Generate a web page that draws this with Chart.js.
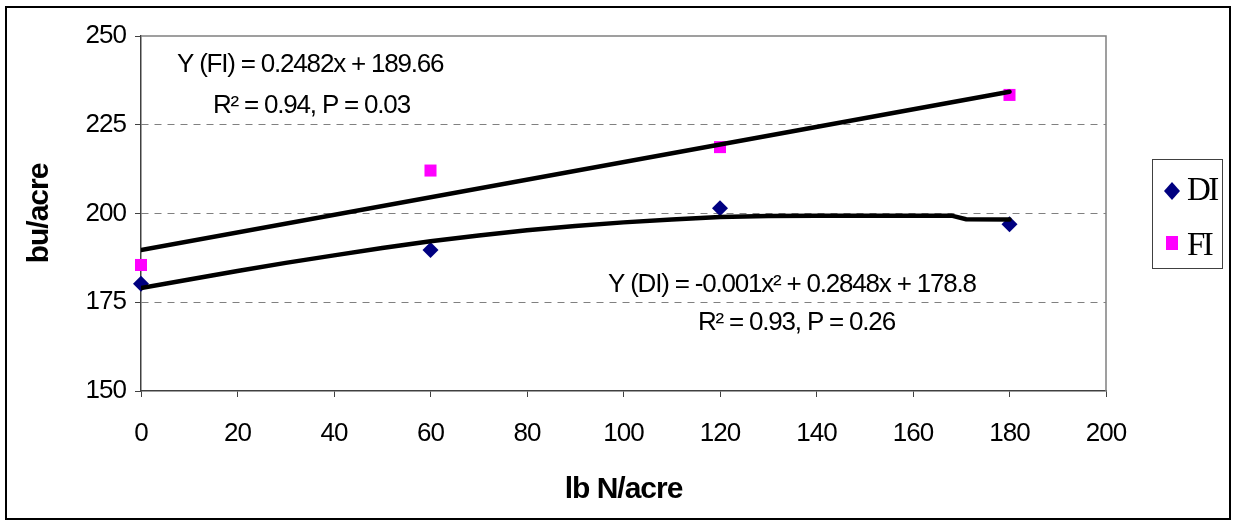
<!DOCTYPE html>
<html>
<head>
<meta charset="utf-8">
<script src="https://cdn.jsdelivr.net/npm/chart.js@4.4.1/dist/chart.umd.min.js"></script>
<style>
  html, body { margin: 0; padding: 0; background: #fff; }
  canvas { display: block; }
</style>
</head>
<body>
<canvas id="yieldChart" width="1233" height="521"></canvas>
<script>
// N rate (lb N/acre) and yields (bu/acre)
const nRate = [0, 60, 120, 180];
const diYield = [180.2, 189.7, 201.5, 197.0];
const fiYield = [185.5, 212.1, 218.7, 233.4];

// fitted trend lines as drawn in the figure
const diFitX = [0, 10, 20, 30, 40, 50, 60, 70, 80, 90, 100, 110, 120, 130, 140, 150, 160, 168, 171, 180];
const diFitY = [179.0, 181.4, 183.8, 186.1, 188.2, 190.3, 192.2, 193.8, 195.3, 196.5, 197.5, 198.3, 199.0, 199.3, 199.4, 199.4, 199.4, 199.4, 198.4, 198.3];
const fiFitX = [0, 180];
const fiFitY = [189.7, 234.3];

const yTicks = [150, 175, 200, 225, 250];
const xTicks = [0, 20, 40, 60, 80, 100, 120, 140, 160, 180, 200];

const fiEq = 'Y (FI) = 0.2482x + 189.66';
const fiStats = 'R\u00b2 = 0.94, P = 0.03';
const diEq = 'Y (DI) = -0.001x\u00b2 + 0.2848x + 178.8';
const diStats = 'R\u00b2 = 0.93, P = 0.26';

const toPoints = (xs, ys) => xs.map((x, i) => ({ x: x, y: ys[i] }));

const extras = {
  id: 'extras',
  beforeDraw(chart) {
    // the original lettering is set tight
    chart.ctx.letterSpacing = '-1px';
  },
  afterDatasetsDraw(chart) {
    const ctx = chart.ctx;
    const area = chart.chartArea;
    ctx.save();
    // top and right frame of the plot area
    ctx.strokeStyle = '#808080';
    ctx.lineWidth = 1.5;
    ctx.beginPath();
    ctx.moveTo(area.left, area.top);
    ctx.lineTo(area.right, area.top);
    ctx.lineTo(area.right, area.bottom);
    ctx.stroke();

    // equations
    ctx.fillStyle = '#000';
    ctx.font = '26px "Liberation Sans", Arial, sans-serif';
    ctx.letterSpacing = '-1.2px';
    ctx.textAlign = 'left';
    ctx.textBaseline = 'alphabetic';
    ctx.fillText(fiEq, 177, 72);
    ctx.fillText(fiStats, 213, 113);
    ctx.fillText(diEq, 608, 292);
    ctx.fillText(diStats, 698, 330);
    ctx.restore();
  },
  afterDraw(chart) {
    const ctx = chart.ctx;
    ctx.save();
    // legend
    ctx.strokeStyle = '#404040';
    ctx.lineWidth = 1;
    ctx.strokeRect(1152.5, 159.5, 70, 109);
    ctx.fillStyle = '#000080';
    ctx.beginPath();
    ctx.moveTo(1172, 182);
    ctx.lineTo(1180, 191);
    ctx.lineTo(1172, 200);
    ctx.lineTo(1164, 191);
    ctx.closePath();
    ctx.fill();
    ctx.fillStyle = '#ff00ff';
    ctx.fillRect(1166, 236, 12, 14);
    ctx.fillStyle = '#000';
    ctx.font = '33px "Liberation Serif", "Times New Roman", serif';
    ctx.letterSpacing = '-2.5px';
    ctx.textAlign = 'left';
    ctx.textBaseline = 'alphabetic';
    ctx.fillText('DI', 1187, 200);
    ctx.fillText('FI', 1187, 255);
    // outer frame
    ctx.strokeStyle = '#000';
    ctx.lineWidth = 2;
    ctx.strokeRect(6, 7, 1224, 512);
    ctx.restore();
  }
};

new Chart(document.getElementById('yieldChart').getContext('2d'), {
  type: 'scatter',
  data: {
    datasets: [
      {
        label: 'FI fit',
        data: toPoints(fiFitX, fiFitY),
        showLine: true,
        borderColor: '#000',
        borderWidth: 4.5,
        pointRadius: 0,
        borderCapStyle: 'round'
      },
      {
        label: 'DI fit',
        data: toPoints(diFitX, diFitY),
        showLine: true,
        borderColor: '#000',
        borderWidth: 4.5,
        pointRadius: 0,
        borderCapStyle: 'round'
      },
      {
        label: 'DI',
        data: toPoints(nRate, diYield),
        clip: false,
        pointStyle: 'rectRot',
        pointRadius: 8,
        backgroundColor: '#000080',
        borderColor: '#000080',
        borderWidth: 0
      },
      {
        label: 'FI',
        data: toPoints(nRate, fiYield),
        clip: false,
        pointStyle: 'rect',
        pointRadius: 8.5,
        backgroundColor: '#ff00ff',
        borderColor: '#ff00ff',
        borderWidth: 0
      }
    ]
  },
  options: {
    responsive: false,
    animation: false,
    devicePixelRatio: 1,
    layout: { padding: { left: 10, right: 127, top: 36, bottom: 0 } },
    plugins: {
      legend: { display: false },
      tooltip: { enabled: false }
    },
    scales: {
      x: {
        type: 'linear',
        min: 0,
        max: 200,
        afterFit: (scale) => { scale.height = 130; },
        afterBuildTicks: (scale) => { scale.ticks = xTicks.map(v => ({ value: v })); },
        ticks: {
          color: '#000',
          padding: 21,
          maxRotation: 0,
          font: { family: '"Liberation Sans", Arial, sans-serif', size: 26 }
        },
        grid: {
          drawOnChartArea: false,
          drawTicks: true,
          tickLength: 6,
          tickColor: '#404040',
          tickWidth: 1
        },
        border: { color: '#404040', width: 1.5 },
        title: {
          display: true,
          text: 'lb N/acre',
          color: '#000',
          padding: { top: 0, bottom: 13 },
          font: { family: '"Liberation Sans", Arial, sans-serif', size: 30, weight: 'bold' }
        }
      },
      y: {
        min: 150,
        max: 250,
        afterFit: (scale) => { scale.width = 131; },
        afterBuildTicks: (scale) => { scale.ticks = yTicks.map(v => ({ value: v })); },
        ticks: {
          color: '#000',
          padding: 9,
          font: { family: '"Liberation Sans", Arial, sans-serif', size: 26 }
        },
        grid: {
          color: (c) => (c.tick && c.tick.value > 150 && c.tick.value < 250) ? '#808080' : 'rgba(0,0,0,0)',
          lineWidth: 1,
          drawTicks: true,
          tickLength: 6,
          tickColor: '#404040',
          tickWidth: 1
        },
        border: { color: '#404040', width: 1.5, dash: [7, 6] },
        title: {
          display: true,
          text: 'bu/acre',
          color: '#000',
          padding: { top: 12, bottom: 0 },
          font: { family: '"Liberation Sans", Arial, sans-serif', size: 30, weight: 'bold' }
        }
      }
    }
  },
  plugins: [extras]
});
</script>
</body>
</html>
